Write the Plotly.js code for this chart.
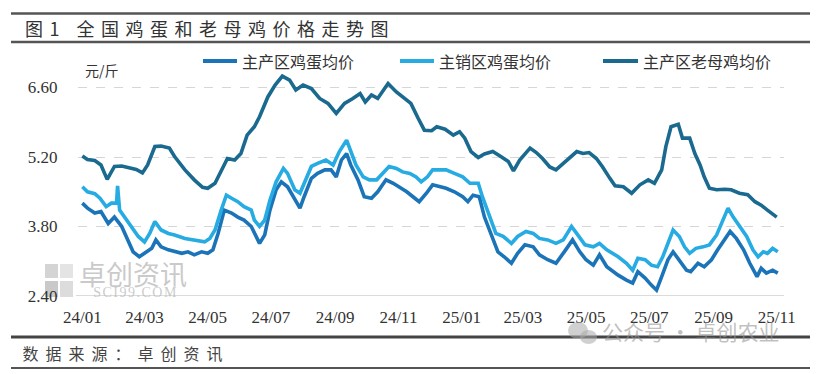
<!DOCTYPE html>
<html>
<head>
<meta charset="utf-8">
<script src="https://cdn.plot.ly/plotly-3.0.1.min.js"></script>
<style>
  html, body { margin: 0; padding: 0; background: #fff; }
  #chart { width: 820px; height: 374px; }
  g.annotation[data-index="0"] text { letter-spacing: 6.5px; }
  g.annotation[data-index="1"] text { letter-spacing: 7px; }
  g.annotation[data-index="4"] text { letter-spacing: 1.5px; }
</style>
</head>
<body>
<div id="chart"></div>
<script>
// ---- data ----
const seriesNames = ['主产区鸡蛋均价', '主销区鸡蛋均价', '主产区老母鸡均价'];

const mainEggDates = ['2024-01-01','2024-01-06','2024-01-13','2024-01-19','2024-01-26','2024-02-01','2024-02-08','2024-02-14','2024-02-19','2024-02-25','2024-03-03','2024-03-08','2024-03-12','2024-03-17','2024-03-24','2024-03-30','2024-04-06','2024-04-12','2024-04-18','2024-04-25','2024-05-01','2024-05-06','2024-05-11','2024-05-17','2024-05-24','2024-05-30','2024-06-05','2024-06-12','2024-06-15','2024-06-20','2024-06-25','2024-06-30','2024-07-06','2024-07-11','2024-07-17','2024-07-24','2024-07-29','2024-08-02','2024-08-09','2024-08-15','2024-08-22','2024-08-28','2024-09-02','2024-09-07','2024-09-12','2024-09-16','2024-09-23','2024-09-29','2024-10-06','2024-10-12','2024-10-20','2024-10-27','2024-11-02','2024-11-09','2024-11-15','2024-11-21','2024-11-28','2024-12-04','2024-12-17','2024-12-25','2025-01-02','2025-01-07','2025-01-12','2025-01-18','2025-01-23','2025-01-30','2025-02-05','2025-02-11','2025-02-18','2025-02-24','2025-03-03','2025-03-11','2025-03-17','2025-03-25','2025-04-02','2025-04-10','2025-04-18','2025-04-25','2025-05-01','2025-05-08','2025-05-14','2025-05-21','2025-05-27','2025-06-01','2025-06-09','2025-06-15','2025-06-20','2025-06-27','2025-07-03','2025-07-08','2025-07-13','2025-07-19','2025-07-24','2025-07-30','2025-08-06','2025-08-10','2025-08-17','2025-08-23','2025-08-30','2025-09-05','2025-09-12','2025-09-17','2025-09-23','2025-09-30','2025-10-06','2025-10-13','2025-10-17','2025-10-22','2025-10-28','2025-11-02'];
const mainEggValues = [4.27,4.17,4.07,4.10,3.86,3.99,3.80,3.53,3.29,3.19,3.29,3.36,3.53,3.39,3.33,3.29,3.26,3.29,3.23,3.29,3.26,3.33,3.66,4.13,4.07,3.99,3.93,3.80,3.66,3.46,3.63,4.13,4.54,4.70,4.60,4.33,4.17,4.40,4.77,4.87,4.94,4.94,4.80,5.14,5.27,5.04,4.74,4.40,4.37,4.50,4.74,4.67,4.60,4.50,4.40,4.30,4.47,4.64,4.57,4.50,4.40,4.30,4.43,4.40,3.99,3.60,3.29,3.19,3.06,3.26,3.43,3.39,3.23,3.13,3.06,3.29,3.53,3.29,3.13,3.02,3.23,2.99,2.89,2.82,2.72,2.66,2.89,2.76,2.62,2.52,2.79,3.13,3.29,3.13,2.92,2.89,3.06,2.99,3.13,3.33,3.56,3.70,3.56,3.33,3.06,2.79,2.96,2.86,2.92,2.86];

const salesEggDates = ['2024-01-01','2024-01-06','2024-01-13','2024-01-18','2024-01-24','2024-01-29','2024-02-03','2024-02-04','2024-02-06','2024-02-11','2024-02-17','2024-02-24','2024-03-01','2024-03-06','2024-03-11','2024-03-17','2024-03-24','2024-03-30','2024-04-09','2024-04-18','2024-04-28','2024-05-03','2024-05-08','2024-05-14','2024-05-19','2024-05-24','2024-05-30','2024-06-05','2024-06-12','2024-06-15','2024-06-20','2024-06-25','2024-06-30','2024-07-06','2024-07-13','2024-07-17','2024-07-24','2024-07-29','2024-08-02','2024-08-09','2024-08-15','2024-08-23','2024-08-30','2024-09-05','2024-09-12','2024-09-16','2024-09-21','2024-09-28','2024-10-04','2024-10-11','2024-10-17','2024-10-23','2024-10-30','2024-11-05','2024-11-12','2024-11-18','2024-11-23','2024-11-29','2024-12-04','2024-12-17','2024-12-25','2025-01-02','2025-01-09','2025-01-17','2025-01-21','2025-01-28','2025-02-03','2025-02-10','2025-02-18','2025-02-24','2025-03-04','2025-03-11','2025-03-17','2025-03-25','2025-04-02','2025-04-09','2025-04-17','2025-04-23','2025-04-30','2025-05-08','2025-05-14','2025-05-21','2025-05-27','2025-06-01','2025-06-09','2025-06-15','2025-06-20','2025-06-27','2025-07-03','2025-07-09','2025-07-14','2025-07-19','2025-07-24','2025-07-30','2025-08-04','2025-08-09','2025-08-15','2025-08-22','2025-08-28','2025-09-04','2025-09-10','2025-09-15','2025-09-20','2025-09-26','2025-10-03','2025-10-09','2025-10-14','2025-10-19','2025-10-23','2025-10-28','2025-11-02'];
const salesEggValues = [4.60,4.50,4.46,4.37,4.20,4.27,4.27,4.62,4.13,3.99,3.80,3.60,3.49,3.66,3.90,3.73,3.66,3.63,3.56,3.53,3.49,3.56,3.73,4.13,4.43,4.37,4.30,4.20,4.13,3.93,3.80,3.93,4.33,4.70,4.97,4.87,4.54,4.47,4.67,5.01,5.07,5.14,5.04,5.31,5.54,5.31,5.04,4.80,4.74,4.74,4.87,5.01,4.97,4.90,4.87,4.80,4.70,4.80,4.94,4.94,4.87,4.80,4.67,4.67,4.40,3.99,3.66,3.60,3.46,3.60,3.70,3.66,3.56,3.53,3.46,3.53,3.80,3.63,3.43,3.39,3.46,3.33,3.26,3.19,3.06,2.92,3.16,3.13,3.02,2.99,3.19,3.46,3.73,3.60,3.39,3.26,3.36,3.39,3.43,3.63,3.93,4.17,3.99,3.80,3.60,3.33,3.19,3.29,3.26,3.36,3.29];

const henDates = ['2024-01-01','2024-01-06','2024-01-13','2024-01-19','2024-01-25','2024-02-01','2024-02-08','2024-02-14','2024-02-22','2024-02-28','2024-03-04','2024-03-11','2024-03-17','2024-03-25','2024-03-30','2024-04-09','2024-04-18','2024-04-26','2024-05-01','2024-05-08','2024-05-14','2024-05-20','2024-05-27','2024-06-02','2024-06-08','2024-06-15','2024-06-20','2024-06-23','2024-06-28','2024-07-05','2024-07-12','2024-07-19','2024-07-25','2024-08-01','2024-08-09','2024-08-17','2024-08-25','2024-09-02','2024-09-10','2024-09-18','2024-09-25','2024-09-30','2024-10-06','2024-10-12','2024-10-22','2024-10-30','2024-11-05','2024-11-13','2024-11-20','2024-11-26','2024-12-03','2024-12-08','2024-12-16','2024-12-24','2024-12-30','2025-01-04','2025-01-10','2025-01-17','2025-01-23','2025-01-31','2025-02-07','2025-02-15','2025-02-20','2025-02-26','2025-03-08','2025-03-14','2025-03-20','2025-03-27','2025-04-02','2025-04-09','2025-04-15','2025-04-22','2025-04-28','2025-05-04','2025-05-11','2025-05-17','2025-05-24','2025-05-29','2025-06-06','2025-06-14','2025-06-22','2025-06-30','2025-07-06','2025-07-13','2025-07-17','2025-07-22','2025-07-29','2025-08-02','2025-08-09','2025-08-14','2025-08-19','2025-08-23','2025-08-28','2025-09-04','2025-09-12','2025-09-18','2025-09-26','2025-10-04','2025-10-11','2025-10-17','2025-10-23','2025-11-01'];
const henValues = [5.22,5.15,5.13,5.04,4.75,5.01,5.02,4.99,4.95,4.88,5.04,5.41,5.42,5.38,5.21,4.94,4.74,4.59,4.57,4.67,4.94,5.17,5.14,5.27,5.64,5.81,6.01,6.15,6.41,6.65,6.83,6.75,6.55,6.65,6.58,6.38,6.28,6.08,6.28,6.38,6.48,6.31,6.45,6.38,6.68,6.51,6.41,6.28,5.98,5.74,5.73,5.81,5.76,5.64,5.71,5.58,5.31,5.19,5.26,5.31,5.22,5.11,4.92,5.14,5.38,5.29,5.17,5.00,4.94,5.07,5.19,5.31,5.27,5.29,5.17,5.00,4.77,4.62,4.60,4.47,4.64,4.74,4.67,4.94,5.41,5.81,5.86,5.58,5.58,5.27,5.04,4.80,4.57,4.54,4.55,4.54,4.47,4.44,4.30,4.23,4.13,3.99];

const yTickValues = [2.40, 3.80, 5.20, 6.60];
const yTickLabels = ['2.40', '3.80', '5.20', '6.60'];
const xTickValues = ['2024-01-01','2024-03-01','2024-05-01','2024-07-01','2024-09-01','2024-11-01','2025-01-01','2025-03-01','2025-05-01','2025-07-01','2025-09-01','2025-11-01'];
const xTickLabels = ['24/01','24/03','24/05','24/07','24/09','24/11','25/01','25/03','25/05','25/07','25/09','25/11'];

const colors = ['#1b74b8', '#27abe3', '#1a6a90'];

// ---- figure ----
const W = 820, H = 374;
const M = {l: 78, r: 36, t: 68, b: 78};
const PW = W - M.l - M.r, PH = H - M.t - M.b;
const px = x => (x - M.l) / PW;          // pixel -> paper x
const py = y => (H - M.b - y) / PH;       // pixel -> paper y

const traces = [
  {x: mainEggDates, y: mainEggValues, name: seriesNames[0]},
  {x: salesEggDates, y: salesEggValues, name: seriesNames[1]},
  {x: henDates, y: henValues, name: seriesNames[2]}
].map((t, i) => Object.assign(t, {
  type: 'scatter', mode: 'lines',
  line: {color: colors[i], width: 3.6, shape: 'linear'},
  hoverinfo: 'skip', showlegend: false
}));

const cjk = '"Noto Sans CJK SC", "Noto Sans", sans-serif';
const serif = '"Liberation Serif", "DejaVu Serif", serif';

// legend drawn as line samples + texts (positions in pixels)
const legendLineX = [[203, 237], [400, 434], [603, 638]];
const legendY = 61;

const shapes = [
  // solid bottom axis line
  {type: 'line', xref: 'paper', yref: 'y', x0: px(76), x1: px(784), y0: 2.4, y1: 2.4,
   line: {color: '#cfcfcf', width: 1.5}},
  // frame lines of the figure
  {type: 'line', xref: 'paper', yref: 'paper', x0: px(11), x1: px(810), y0: py(13.5), y1: py(13.5),
   line: {color: '#555555', width: 2.5}},
  {type: 'line', xref: 'paper', yref: 'paper', x0: px(11), x1: px(810), y0: py(42), y1: py(42),
   line: {color: '#555555', width: 2.5}},
  {type: 'line', xref: 'paper', yref: 'paper', x0: px(11), x1: px(810), y0: py(337), y1: py(337),
   line: {color: '#444444', width: 3}},
  {type: 'line', xref: 'paper', yref: 'paper', x0: px(11), x1: px(810), y0: py(368), y1: py(368),
   line: {color: '#555555', width: 2}},
  // watermark logo blocks
  {type: 'rect', xref: 'paper', yref: 'paper', x0: px(45), x1: px(58), y0: py(278), y1: py(264),
   fillcolor: '#d4d4d4', line: {width: 0}, layer: 'below'},
  {type: 'rect', xref: 'paper', yref: 'paper', x0: px(60), x1: px(73), y0: py(278), y1: py(264),
   fillcolor: '#e4e4e4', line: {width: 0}, layer: 'below'},
  {type: 'rect', xref: 'paper', yref: 'paper', x0: px(45), x1: px(58), y0: py(297), y1: py(281),
   fillcolor: '#c9c9c9', line: {width: 0}, layer: 'below'},
  {type: 'rect', xref: 'paper', yref: 'paper', x0: px(60), x1: px(73), y0: py(297), y1: py(281),
   fillcolor: '#dcdcdc', line: {width: 0}, layer: 'below'},
  // wechat icon watermark
  {type: 'circle', xref: 'paper', yref: 'paper', x0: px(568), x1: px(588), y0: py(339), y1: py(322),
   fillcolor: 'rgba(170,170,170,0.55)', line: {width: 0}},
  {type: 'circle', xref: 'paper', yref: 'paper', x0: px(580), x1: px(597), y0: py(344), y1: py(330),
   fillcolor: 'rgba(170,170,170,0.55)', line: {width: 0}}
];
legendLineX.forEach((lx, i) => shapes.push({
  type: 'line', xref: 'paper', yref: 'paper',
  x0: px(lx[0]), x1: px(lx[1]), y0: py(legendY), y1: py(legendY),
  line: {color: colors[i], width: 4}
}));

const annotations = [
  {text: '图1 全国鸡蛋和老母鸡价格走势图', xref: 'paper', yref: 'paper',
   x: px(210), y: py(28.5), xanchor: 'center', yanchor: 'middle', showarrow: false,
   font: {family: cjk, size: 18, color: '#333333'}},
  {text: '数据来源：卓创资讯', xref: 'paper', yref: 'paper',
   x: px(126), y: py(352.5), xanchor: 'center', yanchor: 'middle', showarrow: false,
   font: {family: cjk, size: 16, color: '#444444'}},
  {text: '元/斤', xref: 'paper', yref: 'paper',
   x: px(83), y: py(70), xanchor: 'left', yanchor: 'middle', showarrow: false,
   font: {family: cjk, size: 14, color: '#333333'}},
  {text: '卓创资讯', xref: 'paper', yref: 'paper',
   x: px(77), y: py(273), xanchor: 'left', yanchor: 'middle', showarrow: false,
   font: {family: cjk, size: 27, color: 'rgba(185,185,185,0.75)'}},
  {text: 'SCI99.COM', xref: 'paper', yref: 'paper',
   x: px(136), y: py(292), xanchor: 'center', yanchor: 'middle', showarrow: false,
   font: {family: serif, size: 14, color: 'rgba(185,185,185,0.75)'}},
  {text: '公众号 · 卓创农业', xref: 'paper', yref: 'paper',
   x: px(600), y: py(331), xanchor: 'left', yanchor: 'middle', showarrow: false,
   font: {family: cjk, size: 21, color: 'rgba(150,150,150,0.6)'}}
];
legendLineX.forEach((lx, i) => annotations.push({
  text: seriesNames[i], xref: 'paper', yref: 'paper',
  x: px(lx[1] + 3), y: py(legendY), xanchor: 'left', yanchor: 'middle', showarrow: false,
  font: {family: cjk, size: 16, color: '#333333'}
}));

const layout = {
  width: W, height: H,
  margin: M,
  paper_bgcolor: '#ffffff',
  plot_bgcolor: '#ffffff',
  showlegend: false,
  xaxis: {
    type: 'date',
    range: ['2023-12-27 20:00', '2025-11-08'],
    tickvals: xTickValues,
    ticktext: xTickLabels,
    showgrid: false,
    zeroline: false,
    showline: false,
    ticks: 'outside', ticklen: 6, tickcolor: 'rgba(0,0,0,0)',
    tickfont: {family: serif, size: 17, color: '#333333'},
    fixedrange: true
  },
  yaxis: {
    range: [2.4, 2.4 + PH / 49.64],
    tickvals: yTickValues,
    ticktext: yTickLabels,
    showgrid: true,
    gridcolor: '#d6d6d6',
    griddash: 'dash',
    gridwidth: 1,
    zeroline: false,
    showline: false,
    ticks: 'outside', ticklen: 16, tickcolor: 'rgba(0,0,0,0)',
    tickfont: {family: serif, size: 17, color: '#333333'},
    fixedrange: true
  },
  shapes: shapes,
  annotations: annotations
};

Plotly.newPlot('chart', traces, layout, {staticPlot: true, displayModeBar: false});
</script>
</body>
</html>
